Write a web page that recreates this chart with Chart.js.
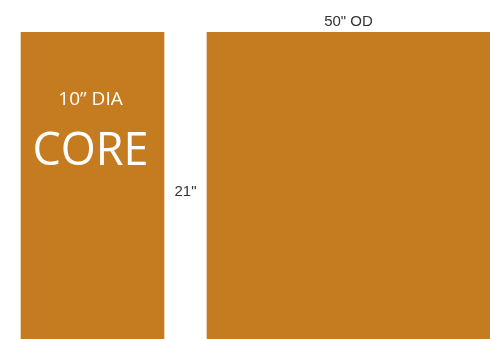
<!DOCTYPE html>
<html>
<head>
<meta charset="utf-8">
<script src="https://cdn.jsdelivr.net/npm/chart.js@4/dist/chart.umd.min.js"></script>
<style>
  body { margin: 0; background: #fff; }
  #wrap { width: 490px; height: 339px; }
</style>
</head>
<body>
<div id="wrap"><canvas id="myChart"></canvas></div>
<script>
// spans along the drawing axis (schematic, not to scale)
const coreSpan = [21, 164];
const outerSpan = [207, 490];
const rowLabels = ['drum'];

const coreText = ['10\u201D DIA', 'CORE'];
const outerText = '50" OD';
const heightText = '21"';

const barColor = '#c57c20';

const labelPlugin = {
    id: 'labels',
    afterDatasetsDraw(chart) {
        const ctx = chart.ctx;
        const core = chart.getDatasetMeta(0).data[0];
        const outer = chart.getDatasetMeta(1).data[0];
        const coreTop = core.y - core.height / 2;
        const outerTop = outer.y - outer.height / 2;
        const coreX = (core.base + core.x) / 2 - 2;
        const outerX = (outer.base + outer.x) / 2;

        ctx.save();
        ctx.textAlign = 'center';
        ctx.textBaseline = 'alphabetic';

        ctx.fillStyle = '#ffffff';
        ctx.font = '19px "Open Sans"';
        ctx.fillText(coreText[0], coreX, coreTop + 73);
        ctx.font = '45px "Open Sans"';
        ctx.fillText(coreText[1], coreX, coreTop + 133);

        ctx.fillStyle = '#333333';
        ctx.font = '15px "Liberation Sans"';
        ctx.fillText(outerText, outerX, outerTop - 6);
        ctx.fillText(heightText, (core.x + outer.base) / 2, core.y + 10.5);
        ctx.restore();
    }
};

const config = {
    type: 'bar',
    data: {
        labels: rowLabels,
        datasets: [{
            data: [coreSpan],
            backgroundColor: barColor,
            barPercentage: 1,
            categoryPercentage: 1
        }, {
            data: [outerSpan],
            backgroundColor: barColor,
            barPercentage: 1,
            categoryPercentage: 1
        }]
    },
    options: {
        indexAxis: 'y',
        responsive: true,
        maintainAspectRatio: false,
        animation: false,
        grouped: false,
        layout: { padding: { top: 32, left: 0, right: 0, bottom: 0 } },
        scales: {
            x: { type: 'linear', min: 0, max: 490, display: false },
            y: { display: false }
        },
        plugins: {
            legend: { display: false },
            tooltip: { enabled: false }
        }
    },
    plugins: [labelPlugin]
};

const myChart = new Chart(document.getElementById('myChart'), config);
</script>
</body>
</html>
